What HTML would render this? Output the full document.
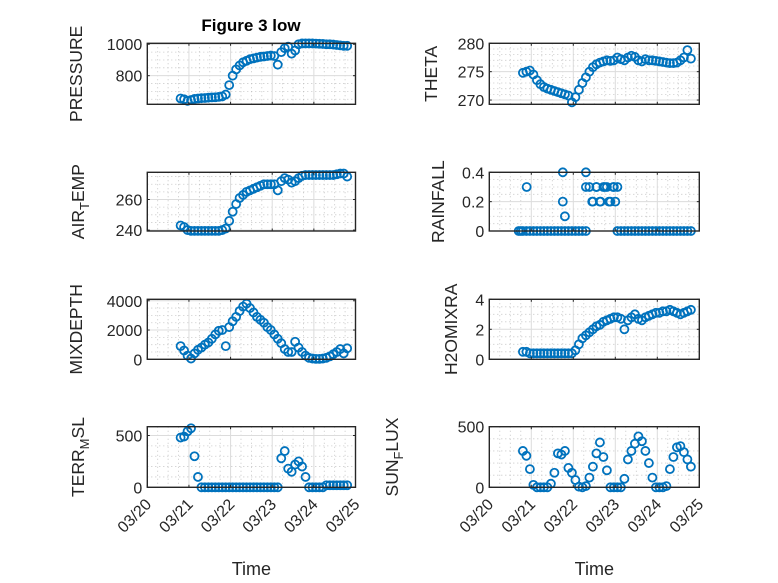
<!DOCTYPE html>
<html><head><meta charset="utf-8"><style>
html,body{margin:0;padding:0;background:#fff;}
svg{display:block;font-family:"Liberation Sans","DejaVu Sans",sans-serif;}
</style></head><body>
<svg id="fig" width="778" height="583" viewBox="0 0 778 583">
<rect width="778" height="583" fill="#fff"/>
<text x="251" y="31" text-anchor="middle" font-size="17" font-weight="bold" fill="#000">Figure 3 low</text>
</svg>
<script>
const days = ['03/20','03/21','03/22','03/23','03/24','03/25'];
const t = [];
for (let i = 0; i <= 48; i++) t.push(0.8 + i / 12);
const pressure = [655,650,640,645,652,655,657,658,660,662,663,665,668,680,740,800,840,865,885,895,905,910,915,920,922,925,928,925,870,950,975,985,940,960,1000,1005,1005,1005,1005,1004,1003,1002,1000,1000,998,995,993,990,990];
const theta = [274.8,275,275.2,274.5,273.5,272.8,272.3,272,271.8,271.6,271.4,271.2,271,270.8,269.6,270.5,271.8,273,274,275,275.8,276.3,276.6,276.8,277,276.9,277,277.5,277.2,277,277.5,277.8,277.6,277,276.8,277.2,277,277,276.9,276.8,276.7,276.6,276.5,276.5,276.6,277,277.5,278.8,277.3];
const airTemp = [243,242,240,239.5,239.5,239.5,239.5,239.5,239.5,239.5,239.5,239.5,240,241,246,252,257,261,263,265,266,267,268,269,270,270,270,270,266,272,274,273,271,272,274,275.5,276,276,276,276,276,276,276,276,276,276.5,277,277,275];
const rainfall = [0,0,0,0,0,0,0,0,0,0,0,0,0,0,0,0,0,0,0,0.3,0.2,0.3,0.2,0.3,0.3,0.2,0.3,0,0,0,0,0,0,0,0,0,0,0,0,0,0,0,0,0,0,0,0,0,0];
const rainExtraT = [0.7,0.75,0.89,1.75,1.75,1.8,2.3,2.3,2.45,2.55,2.65,2.75,2.85,2.95,3.0,3.05];
const rainExtraV = [0,0,0.3,0.4,0.2,0.1,0.4,0.3,0.2,0.3,0.2,0.3,0.2,0.3,0.2,0.3];
const mixDepth = [900,600,250,50,400,650,800,1000,1150,1400,1700,1950,2000,900,2200,2600,2900,3300,3600,3800,3500,3200,2900,2700,2500,2200,2000,1700,1400,1100,700,500,500,1200,800,500,250,100,50,30,30,50,100,200,350,500,700,400,750];
const h2o = [0.5,0.5,0.4,0.4,0.4,0.4,0.4,0.4,0.4,0.4,0.4,0.4,0.4,0.4,0.4,0.6,1.0,1.4,1.6,1.8,2.0,2.2,2.3,2.5,2.6,2.7,2.8,2.8,2.7,2.0,2.6,2.8,3.0,2.7,2.6,2.8,2.9,3.0,3.1,3.1,3.2,3.2,3.3,3.2,3.1,3.0,3.1,3.2,3.3];
const terr = [480,490,540,570,300,100,0,0,0,0,0,0,0,0,0,0,0,0,0,0,0,0,0,0,0,0,0,0,0,280,350,180,150,220,250,200,100,0,0,0,0,0,20,20,20,20,20,20,20];
const sun = [300,260,150,20,0,0,0,0,30,120,280,270,300,160,120,60,5,0,10,80,170,280,370,250,140,0,0,0,0,70,230,300,360,420,380,300,200,80,0,0,0,10,150,250,330,340,290,230,170];

const NS = 'http://www.w3.org/2000/svg';
const svg = document.getElementById('fig');
function mk(tag, attrs, parent) {
  const e = document.createElementNS(NS, tag);
  for (const k in attrs) e.setAttribute(k, attrs[k]);
  (parent || svg).appendChild(e);
  return e;
}
const cols = [{x0:147.3, x1:355.5}, {x0:489.3, x1:699.3}];
const rows = [{y0:43.3, y1:104.3}, {y0:172.3, y1:231}, {y0:299.3, y1:359.3}, {y0:426.7, y1:487.3}];

function panel(name, col, row, ylim, yticks, ytl, minorStep, label, labelX, seriesT, seriesV, showX) {
  const c = cols[col], r = rows[row];
  const g = mk('g', {});
  
  
  const sx = d => c.x0 + (d / 5) * (c.x1 - c.x0);
  const sy = v => r.y1 - (v - ylim[0]) / (ylim[1] - ylim[0]) * (r.y1 - r.y0);
  mk('rect', {x:c.x0, y:r.y0, width:c.x1-c.x0, height:r.y1-r.y0, fill:'#fff'}, g);
  for (let d = 0.25; d < 5; d += 0.25) {
    if (Math.abs(d - Math.round(d)) < 1e-6) continue;
    mk('line', {x1:sx(d), x2:sx(d), y1:r.y0, y2:r.y1, stroke:'#bbb', 'stroke-width':0.8, 'stroke-dasharray':'1 3'}, g);
  }
  for (let v = Math.ceil(ylim[0]/minorStep)*minorStep; v < ylim[1]; v += minorStep) {
    if (yticks.some(tk => Math.abs(tk - v) < 1e-9)) continue;
    mk('line', {x1:c.x0, x2:c.x1, y1:sy(v), y2:sy(v), stroke:'#bbb', 'stroke-width':0.8, 'stroke-dasharray':'1 3'}, g);
  }
  for (let d = 1; d < 5; d++) mk('line', {x1:sx(d), x2:sx(d), y1:r.y0, y2:r.y1, stroke:'#dcdcdc', 'stroke-width':1}, g);
  yticks.forEach(v => mk('line', {x1:c.x0, x2:c.x1, y1:sy(v), y2:sy(v), stroke:'#dcdcdc', 'stroke-width':1}, g));
  const dg = mk('g', {}, g);
  
  
  seriesT.forEach((tt, k) => {
    for (let i = 0; i < tt.length; i++) {
      const cc = mk('circle', {cx:sx(tt[i]), cy:sy(seriesV[k][i]), r:4, fill:'none', stroke:'#0072BD', 'stroke-width':1.8}, dg);
      
      
    }
  });
  mk('rect', {x:c.x0, y:r.y0, width:c.x1-c.x0, height:r.y1-r.y0, fill:'none', stroke:'#262626', 'stroke-width':1.4}, g);
  for (let d = 0; d <= 5; d++) {
    mk('line', {x1:sx(d), x2:sx(d), y1:r.y1, y2:r.y1-2.5, stroke:'#262626'}, g);
    mk('line', {x1:sx(d), x2:sx(d), y1:r.y0, y2:r.y0+2.5, stroke:'#262626'}, g);
  }
  yticks.forEach((v, i) => {
    mk('line', {x1:c.x0, x2:c.x0+2.5, y1:sy(v), y2:sy(v), stroke:'#262626'}, g);
    mk('line', {x1:c.x1, x2:c.x1-2.5, y1:sy(v), y2:sy(v), stroke:'#262626'}, g);
    const tx = mk('text', {x:c.x0-5, y:sy(v)+6, 'text-anchor':'end', 'font-size':16, fill:'#262626'}, g);
    tx.textContent = ytl[i];
    
    
  });
  const cy = (r.y0 + r.y1) / 2;
  const yl = mk('text', {x:labelX, y:cy, 'text-anchor':'middle', 'font-size':17.5, fill:'#262626', transform:'rotate(-90 '+labelX+' '+cy+')'}, g);
  
  
  label.forEach(p => {
    const s = mk('tspan', p.sub ? {'font-size':13, dy:5} : (p.after ? {dy:-5} : {}), yl);
    s.textContent = p.t;
  });
  if (showX) {
    days.forEach((dl, d) => {
      const x = sx(d) + 5, y = r.y1 + 18;
      const tx = mk('text', {x:x, y:y, 'text-anchor':'end', 'font-size':16, fill:'#262626', transform:'rotate(-45 '+x+' '+y+')'}, g);
      tx.textContent = dl;
      
      
    });
    const xl = mk('text', {x:(c.x0+c.x1)/2, y:575, 'text-anchor':'middle', 'font-size':18, fill:'#262626'}, g);
    xl.textContent = 'Time';
    
    
  }
}
panel('pressure', 0, 0, [618,1006], [800,1000], ['800','1000'], 50, [{t:'PRESSURE'}], 82, [t], [pressure], false);
panel('theta', 1, 0, [269.25,280], [270,275,280], ['270','275','280'], 1, [{t:'THETA'}], 437, [t], [theta], false);
panel('air-temp', 0, 1, [239.4,277.8], [240,260], ['240','260'], 5, [{t:'AIR'},{t:'T',sub:true},{t:'EMP',after:true}], 84, [t], [airTemp], false);
panel('rainfall', 1, 1, [0,0.4], [0,0.2,0.4], ['0','0.2','0.4'], 0.05, [{t:'RAINFALL'}], 444, [t, rainExtraT], [rainfall, rainExtraV], false);
panel('mixdepth', 0, 2, [0,4100], [0,2000,4000], ['0','2000','4000'], 500, [{t:'MIXDEPTH'}], 82, [t], [mixDepth], false);
panel('h2omixra', 1, 2, [0,4], [0,2,4], ['0','2','4'], 0.5, [{t:'H2OMIXRA'}], 457, [t], [h2o], false);
panel('terr-msl', 0, 3, [0,585], [0,500], ['0','500'], 100, [{t:'TERR'},{t:'M',sub:true},{t:'SL',after:true}], 84, [t], [terr], true);
panel('sun-flux', 1, 3, [0,500], [0,500], ['0','500'], 100, [{t:'SUN'},{t:'F',sub:true},{t:'LUX',after:true}], 398, [t], [sun], true);
</script>
</body></html>
